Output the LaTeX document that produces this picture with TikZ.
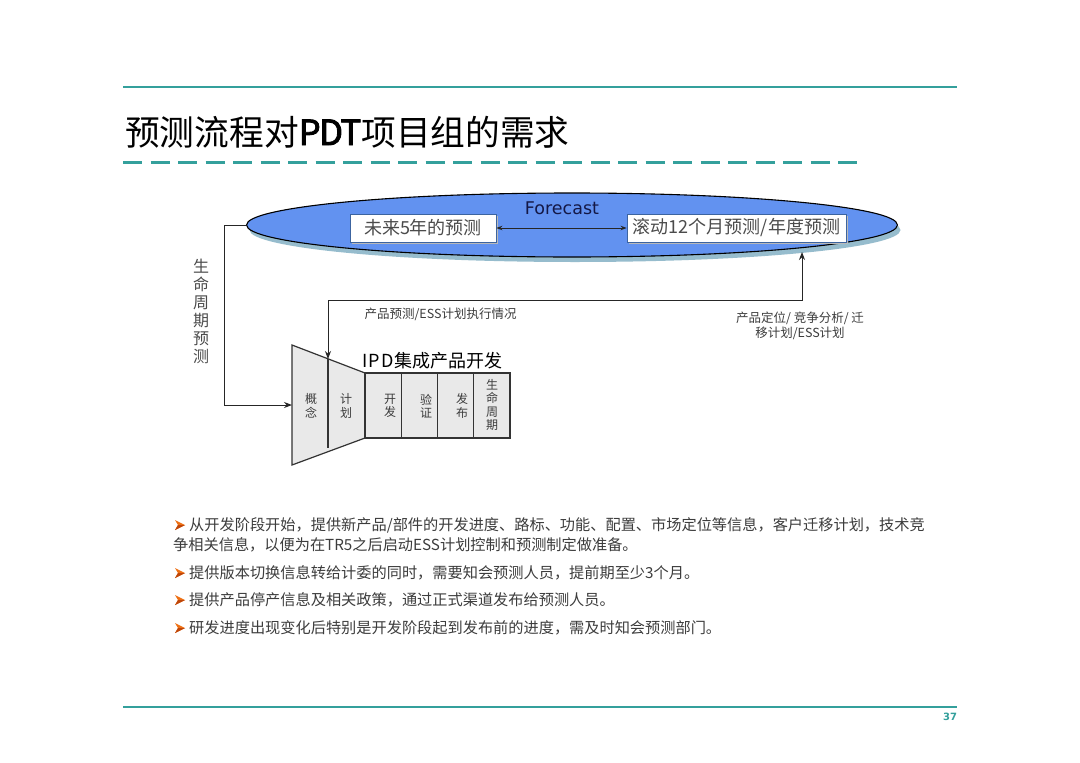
\documentclass[tikz,border=0pt]{standalone}
\usepackage{fontspec}
\setmainfont{Noto Sans CJK SC}
\newfontfamily\cjk{Noto Sans CJK SC}
\newfontfamily\cjkb[FakeBold=2.5]{Noto Sans CJK SC}
\newfontfamily\dejavu{DejaVu Sans}
\usetikzlibrary{shapes.geometric,arrows.meta,shadows}
\definecolor{teal1}{RGB}{52,160,156}
\definecolor{ellblue}{RGB}{98,146,240}
\definecolor{ellshadow}{RGB}{150,188,205}
\definecolor{txtgray}{RGB}{60,60,60}
\definecolor{boxtxt}{RGB}{75,75,75}
\definecolor{cellgray}{RGB}{233,233,233}
\definecolor{bulor}{RGB}{238,112,20}
\definecolor{bulordark}{RGB}{190,70,10}
\definecolor{navytxt}{RGB}{20,24,70}
\definecolor{boxedge}{RGB}{60,100,160}
\tikzset{
  fbox/.style={draw=boxedge, line width=0.8, fill=white, inner sep=0, minimum height=28,
    font=\cjk\fontsize{18}{20}\selectfont, text=boxtxt,
    drop shadow={shadow xshift=2pt, shadow yshift=-2pt, fill=gray!55, opacity=1}},
  cell/.style={draw=black!80, line width=1.2, fill=cellgray, minimum width=36.25, minimum height=65, inner sep=0},
  celltxt/.style={font=\cjk\fontsize{12}{13.5}\selectfont, text=txtgray, align=center},
  lbl/.style={font=\cjk\fontsize{12.5}{15}\selectfont, text=txtgray},
  bultxt/.style={anchor=base west, font=\cjk\fontsize{15.2}{20}\selectfont, text=txtgray, inner sep=0},
  conn/.style={line width=1, black!85},
  tealline/.style={teal1, line width=1.3},
  bulmark/.pic={
    \fill[bulor] (0,-5) -- (10,0) -- (0,5) -- (3,0) -- cycle;
    \fill[bulordark] (3,0) -- (10,0) -- (0,5) -- cycle;
  }
}
\begin{document}
\begin{tikzpicture}[x=1pt,y=-1pt]
\useasboundingbox[fill=white] (0,0) rectangle (1080,763);

% header / footer lines
\draw[tealline] (123,87) -- (957,87);
\draw[teal1, line width=3, dash pattern=on 19pt off 8.5pt] (123,162) -- (865,162);
\draw[tealline] (123,707) -- (957,707);
\node[font=\dejavu\bfseries\fontsize{10}{12}\selectfont, text=teal1] (pg) at (950,717) {37};

% title
\node[anchor=base west, inner sep=0, font=\cjk\fontsize{34.7}{40}\selectfont] (title) at (125,145)
  {预测流程对{\cjkb P\kern-1.5pt D\kern-2.5pt T}项目组的需求};

% forecast ellipse
\node[ellipse, draw=black, line width=1.1, fill=ellblue, minimum width=651, minimum height=64, inner sep=0,
  drop shadow={shadow xshift=3pt, shadow yshift=-5pt, fill=ellshadow, opacity=1}] (fc) at (572,225) {};
\node[font=\dejavu\fontsize{17.5}{20}\selectfont, text=navytxt] (fct) at (562,208) {Forecast};
\node[fbox, minimum width=146] (box1) at (423,228) {未来5年的预测};
\node[fbox, minimum width=219] (box2) at (736.5,228) {滚动12个月预测/年度预测};
\draw[conn, {Stealth[length=6pt]}-{Stealth[length=6pt]}] (box1) -- (box2);

% funnel
\coordinate (f1) at (292,345);
\coordinate (f2) at (365,373);
\coordinate (f3) at (365,438);
\coordinate (f4) at (292,465);
\draw[black!80, line width=1.2, fill=cellgray] (f1) -- (f2) -- (f3) -- (f4) -- cycle;
\node[cell] (c1) at (383.1,405.5) {};
\node[cell] (c2) at (419.4,405.5) {};
\node[cell] (c3) at (455.6,405.5) {};
\node[cell] (c4) at (491.9,405.5) {};
\node[celltxt] (t0a) at (311,406) {概\\念};
\node[celltxt] (t0b) at (346,406) {计\\划};
\node[celltxt] (t1) at (390,406) {开\\发};
\node[celltxt] (t2) at (426,406) {验\\证};
\node[celltxt] (t3) at (462,406) {发\\布};
\node[celltxt] (t4) at (492,405) {生\\命\\周\\期};
\node[anchor=base west, inner sep=0, font=\cjk\fontsize{18}{20}\selectfont, text=black] (ipd) at (362,367) {I\kern1.5pt P\kern1.5pt D集成产品开发};

% connectors
\coordinate (fl) at (292,405);
\coordinate (ta) at (328,359);
\coordinate (eb) at (802,252);
\coordinate (cr) at (802,300);
\coordinate (db) at (328,448);
\draw[conn, -{Stealth[length=8pt]}] (fc.west) -- ++(-21,0) |- (fl);
\draw[conn, {Stealth[length=8pt]}-{Stealth[length=8pt]}] (eb) -- (cr) -| (ta);
\draw[black!80, line width=2] (ta) -- (db);

% labels
\node[lbl, anchor=west] (lb1) at (361,314) {产品预测/ESS计划执行情况};
\node[lbl, align=center] (lb2) at (800,326) {产品定位/ 竞争分析/ 迁\\移计划/ESS计划};
\node[font=\cjk\fontsize{16}{18}\selectfont, text=boxtxt, align=center] (life) at (201,311) {生\\命\\周\\期\\预\\测};

% bullets
\pic at (175,525) {bulmark};
\pic at (175,573) {bulmark};
\pic at (175,600) {bulmark};
\pic at (175,628) {bulmark};
\node[bultxt] (b1a) at (189,530) {从开发阶段开始，提供新产品/部件的开发进度、路标、功能、配置、市场定位等信息，客户迁移计划，技术竞};
\node[bultxt] (b1b) at (173,550) {争相关信息，以便为在TR5之后启动ESS计划控制和预测制定做准备。};
\node[bultxt] (b2) at (189,578) {提供版本切换信息转给计委的同时，需要知会预测人员，提前期至少3个月。};
\node[bultxt] (b3) at (189,605) {提供产品停产信息及相关政策，通过正式渠道发布给预测人员。};
\node[bultxt] (b4) at (189,633) {研发进度出现变化后特别是开发阶段起到发布前的进度，需及时知会预测部门。};
\end{tikzpicture}
\end{document}
